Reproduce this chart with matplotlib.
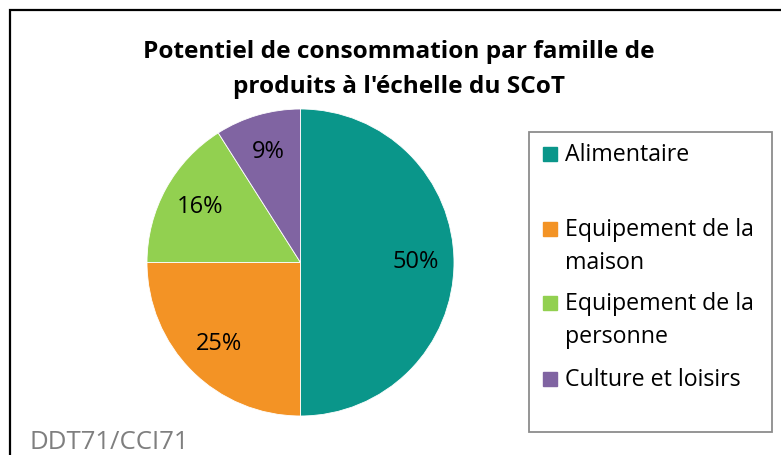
import matplotlib.pyplot as plt
from matplotlib.patches import Rectangle

# données du graphique
categories = ['Alimentaire', 'Equipement de la\nmaison', 'Equipement de la\npersonne', 'Culture et loisirs']
valeurs = [50, 25, 16, 9]
couleurs = ['#0A968A', '#F39325', '#92D050', '#8064A2']
titre = ["Potentiel de consommation par famille de", "produits à l'échelle du SCoT"]
source = 'DDT71/CCI71'

plt.rcParams['font.family'] = ['Open Sans', 'DejaVu Sans']

W, H = 781, 455
fig = plt.figure(figsize=(W / 100, H / 100), dpi=100)

def fx(px):
    return px / W

def fy(py):
    return 1 - py / H

# cadre extérieur
fig.patches.append(Rectangle((fx(10), fy(470)), fx(800), 460 / H, transform=fig.transFigure,
                             fill=False, edgecolor='black', linewidth=1.6))

# camembert
cx, cy, r = 300.5, 262.5, 153.5
ax = fig.add_axes([fx(cx - r), fy(cy + r), 2 * r / W, 2 * r / H])
ax.pie(valeurs, colors=couleurs, startangle=90, counterclock=False,
       autopct='%1.0f%%', pctdistance=0.75,
       wedgeprops={'edgecolor': 'white', 'linewidth': 0.6},
       textprops={'fontsize': 17, 'color': 'black'})
ax.set_xlim(-1, 1)
ax.set_ylim(-1, 1)

# titre
for ligne, yb in zip(titre, [58, 93]):
    fig.text(fx(399), fy(yb), ligne, ha='center', va='baseline', fontsize=17.6,
             fontweight='bold')

# légende (faite à la main pour garder la mise en page Excel)
fig.patches.append(Rectangle((fx(529), fy(432)), fx(772 - 529), 300 / H, transform=fig.transFigure,
                             fill=False, edgecolor='#8c8c8c', linewidth=1.3))
y_base = [161, 236, 310, 386]
for lab, col, yb in zip(categories, couleurs, y_base):
    fig.patches.append(Rectangle((fx(543), fy(yb)), fx(14), 14 / H,
                                 transform=fig.transFigure, color=col))
    for k, ligne in enumerate(lab.split('\n')):
        fig.text(fx(565), fy(yb + 33 * k), ligne, ha='left', va='baseline', fontsize=16.7)

# source
fig.text(fx(30), fy(449), source, ha='left', va='baseline', fontsize=18.5, color='#7f7f7f')

fig.savefig('out.png', dpi=100)
